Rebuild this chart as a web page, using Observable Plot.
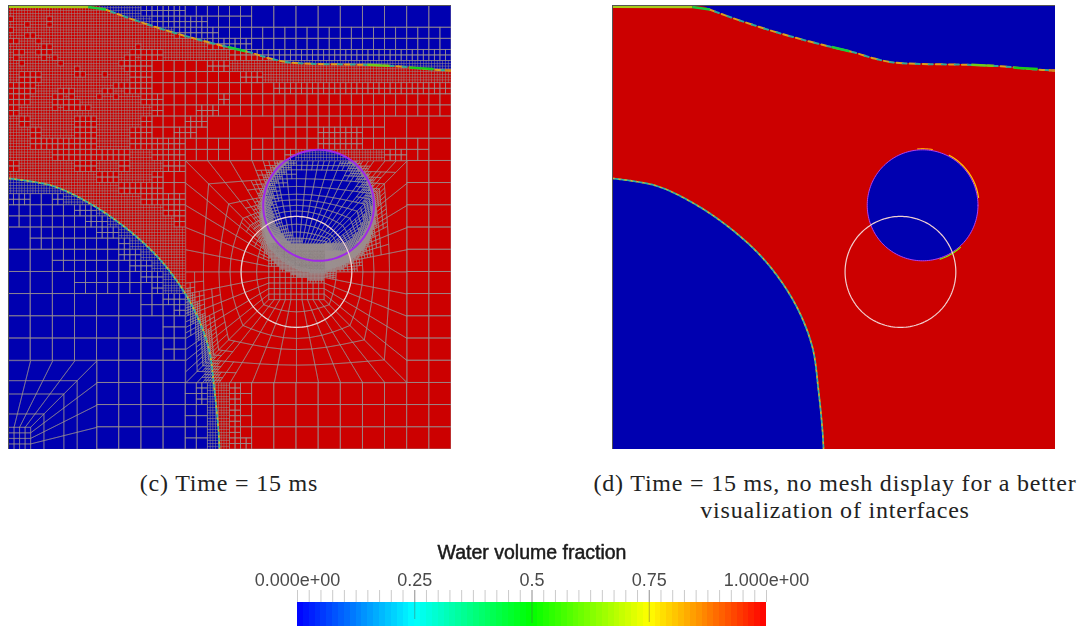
<!DOCTYPE html>
<html><head><meta charset="utf-8">
<script src="https://cdn.jsdelivr.net/npm/d3@7"></script>
<script src="https://cdn.jsdelivr.net/npm/@observablehq/plot@0.6"></script>
<style>
html,body{margin:0;padding:0;background:#fff;width:1081px;height:628px;overflow:hidden}
#page{position:relative;width:1081px;height:628px}
#page>svg,#page>figure,#page>div{position:absolute;margin:0}
.cap{font-family:"Liberation Serif",serif;font-size:24px;letter-spacing:.8px;color:#222;text-align:center;white-space:nowrap;line-height:27px;transform:translateX(-50%)}
</style></head><body><div id="page"></div>
<script>
// ---------- data (units: coarse mesh cells, 20 x 20 panel) ----------
const topX = [0,4.15,4.38,5.5,6.86,8.22,9.8,10.93,11.83,12.73,16.34,17.7,19.05,20];
const topY = [.05,.07,.18,.59,1.04,1.44,1.85,2.12,2.39,2.57,2.68,2.75,2.88,2.93];
const lowX = [0,1.94,3.43,4.97,6.46,7.49,8.40,9.03,9.30,9.48,9.53];
const lowY = [7.79,8.11,8.78,9.77,11.04,12.25,13.74,15.41,17.34,19.14,20];
const bubble = {x:14,y:9,r:2.5};      // air bubble (purple)
const cylinder = {x:13,y:12,r:2.5};   // white circle
const patchX1=[0,3.6,16.2,9.9,18.1,19.7], patchX2=[3.6,4.4,17.2,10.7,19.2,20];
const patchY1=[.06,.07,2.67,1.87,2.80,2.92], patchY2=[.07,.18,2.72,2.06,2.86,2.93];
const patchV =[.7,.45,.62,.45,.5,.85];
const arcA1=[-95,-62,48], arcA2=[-80,-8,72], arcV=[.85,.8,.62];
// refinement level of each half coarse cell: 0..3; "." = body-fitted O-grid block
const levelRows=[
"3333333333332222111111000000000000000000",
"3333333333333222221111000000000000000000",
"3333333333333332222111111111111111111111",
"3333333333333333332222111111111111111111",
"3333333333332233333322222222222222222222",
"3333333333322111112233333333333333333333",
"3333333333322111111112233333333333333333",
"2233333333322111100111112222222222222222",
"2233333333332211000211111111111111111111",
"2333333333333211022000000000000000000000",
"3233332233332110220000001111111100000000",
"3323332233322112200000001111222211000000",
"3322222233322222000000001111222211000000",
"3333222222233222111000011233333333221100",
"2333332233233322....................0000",
"3333333322333211....................0000",
"3333333333222211....................0000",
"2211233333332222....................0000",
"1111112233333322....................0000",
"0011111223333332....................0000",
"0011111122333333....................0000",
"0000111111233333....................0000",
"0000011111223333....................0000",
"0000001111122333....................0000",
"0000001111112233....................0000",
"0000001111111233....................0000",
"0000000000001122....................0000",
"0000000000000112....................0000",
"0000000000000011....................0000",
"0000000000000011....................0000",
"0000000000000011....................0000",
"0000000000000011....................0000",
"........00000000....................0000",
"........00000000....................0000",
"........00000000123321000000000000000000",
"........00000000123321000000000000000000",
"........00000000113321000000000000000000",
"........00000000113321000000000000000000",
"........00000000113321000000000000000000",
"........00000000113322000000000000000000"];
// unsplit quarter cells inside the densest zone [col,row] in quarter cells
const holes=[[0,2],[3,3],[7,2],[7,3],[0,4],[3,5],[4,5],[0,6],[1,6],[5,6],[6,7],[7,7],[5,8],[6,8],[7,8],[6,9],[8,9],[9,10],[1,8],[2,8],[1,9],[2,10],[12,11],[12,12],[13,12],[17,12],[2,12],[3,12],[4,12],[5,12],[2,13],[3,13],[4,13],[5,13],[3,14],[4,14],[3,15],[4,15],[9,15],[10,15],[11,15],[8,16],[9,16],[11,16],[8,17],[9,17],[10,17],[11,17],[12,17],[8,18],[10,18],[11,18],[12,18],[13,18],[14,18],[16,16],[17,15],[18,15],[19,14],[20,14],[21,14],[19,16],[21,15],[23,7],[22,8],[23,8],[21,9],[22,9],[20,10],[21,10],[21,11],[22,11],[22,12],[23,12]];
const ringRadii=[1.25,1.8,2.5,3.0,3.5,4.2,5.0];
const cornerRings=[1,1.6,2.5,3.1,4];
// colour bar
const stops=[0,.25,.5,.75,1];
const stopColors=["#0000ff","#00ffff","#00ff00","#ffff00","#ff0000"];
const tickLabels=["0.000e+00","0.25","0.5","0.75","1.000e+00"];
const tickValues=[0,.25,.5,.75,1];
const majorTicks=[.25,.5,.75], majorDepth=[84,88,87];
const RED="#cc0000", BLUE="#0000b0", MESH="#9a9090";

// ---------- mesh construction ----------
const jet=d3.scaleLinear().domain(stops).range(stopColors);
const lowPts=lowX.map((x,i)=>[x,lowY[i]]);
const topPts=topX.map((x,i)=>[x,topY[i]]);
function distPoly(px,py,pts){let b=1e9;for(let i=0;i<pts.length-1;i++){const[a,c]=pts[i],[e,f]=pts[i+1];const dx=e-a,dy=f-c;let t=((px-a)*dx+(py-c)*dy)/(dx*dx+dy*dy);t=Math.max(0,Math.min(1,t));const d=Math.hypot(px-a-t*dx,py-c-t*dy);if(d<b)b=d;}return b;}
const holeSet=new Set(holes.map(h=>h.join()));
const rects=[];
for(let cy=0;cy<20;cy++)for(let cx=0;cx<20;cx++){
  const ch=[[0,0],[1,0],[0,1],[1,1]].map(([a,b])=>levelRows[2*cy+b][2*cx+a]);
  if(ch.includes("."))continue;
  if(ch.every(c=>c==="0")){rects.push({x1:cx,x2:cx+1,y1:cy,y2:cy+1});continue;}
  [[0,0],[1,0],[0,1],[1,1]].forEach(([a,b],i)=>{
    const L=Math.max(1,+ch[i]),hx=cx+a/2,hy=cy+b/2;
    if(L===1){rects.push({x1:hx,x2:hx+.5,y1:hy,y2:hy+.5});return;}
    for(let qy=0;qy<2;qy++)for(let qx=0;qx<2;qx++){
      const gx=hx+qx/4,gy=hy+qy/4;
      const key=[2*(2*cx+a)+qx,2*(2*cy+b)+qy].join();
      if(L===2||holeSet.has(key)){rects.push({x1:gx,x2:gx+.25,y1:gy,y2:gy+.25});continue;}
      for(let j=0;j<2;j++)for(let k=0;k<2;k++)rects.push({x1:gx+k/8,x2:gx+(k+1)/8,y1:gy+j/8,y2:gy+(j+1)/8});
    }
  });
}
const fineRects=rects.filter(r=>r.x2-r.x1<.2), wideRects=rects.filter(r=>r.x2-r.x1>=.2);
function targetLevel(x,y){
  let L=0;
  const d=Math.hypot(x-bubble.x,y-bubble.y)-bubble.r;
  const s=Math.max(0,(y-bubble.y)/bubble.r);
  if(d>=0){
    if(d<.08+.3*s)L=4; else if(d<.2+.3*s)L=3; else if(d<.45+.3*s)L=2; else if(d<.9)L=1;
  }else{
    if(-d<.1)L=4; else if(-d<.4)L=3; else if(-d<.7)L=2; else L=1;
    if(y>11.05)L=4; else if(y>10.7)L=3;
  }
  const e=distPoly(x,y,lowPts);
  if(e<.3)L=Math.max(L,3); else if(e<.6)L=Math.max(L,2); else if(e<1.1)L=Math.max(L,1);
  return L;
}
const quadPts=[];let qid=0;
function addQuad(q,depth){
  const cx=(q[0][0]+q[1][0]+q[2][0]+q[3][0])/4,cy=(q[0][1]+q[1][1]+q[2][1]+q[3][1])/4;
  if(depth<targetLevel(cx,cy)&&depth<4){
    const m=(a,b)=>[(a[0]+b[0])/2,(a[1]+b[1])/2],c=[cx,cy];
    const a=m(q[0],q[1]),b=m(q[1],q[2]),e=m(q[2],q[3]),f=m(q[3],q[0]);
    addQuad([q[0],a,c,f],depth+1);addQuad([a,q[1],b,c],depth+1);addQuad([c,b,q[2],e],depth+1);addQuad([f,c,e,q[3]],depth+1);
    return;
  }
  const id=qid++;
  [q[0],q[1],q[2],q[3],q[0]].forEach(p=>quadPts.push({id,x:p[0],y:p[1]}));
}
// O-grid around the white circle
{
  const c=[cylinder.x,cylinder.y],vs=[];
  for(let i=0;i<10;i++)vs.push([-5+i,-5]);
  for(let i=0;i<10;i++)vs.push([5,-5+i]);
  for(let i=0;i<10;i++)vs.push([5-i,5]);
  for(let i=0;i<10;i++)vs.push([-5,5-i]);
  const P=(v,r)=>{const l=Math.hypot(v[0],v[1]);
    const I=[v[0]*.25,v[1]*.25],C=[v[0]/l*2.5,v[1]/l*2.5];
    const[a,b,t]=r<=2.5?[I,C,(r-1.25)/1.25]:[C,v,(r-2.5)/2.5];
    return[c[0]+a[0]+(b[0]-a[0])*t,c[1]+a[1]+(b[1]-a[1])*t];};
  for(let j=0;j<ringRadii.length-1;j++)for(let k=0;k<40;k++){
    const v=vs[k],w=vs[(k+1)%40];
    addQuad([P(v,ringRadii[j]),P(w,ringRadii[j]),P(w,ringRadii[j+1]),P(v,ringRadii[j+1])],0);
  }
  for(let i=0;i<10;i++)for(let j=0;j<10;j++){
    const x=c[0]-1.25+i/4,y=c[1]-1.25+j/4;
    addQuad([[x,y],[x+.25,y],[x+.25,y+.25],[x,y+.25]],0);
  }
}
// quarter O-grid in the lower left corner
{
  const c=[0,20],vs=[[0,-4],[1,-4],[2,-4],[3,-4],[4,-4],[4,-3],[4,-2],[4,-1],[4,0]];
  for(let j=0;j<cornerRings.length-1;j++)for(let k=0;k<8;k++){
    const r=cornerRings[j]/4,s=cornerRings[j+1]/4,v=vs[k],w=vs[k+1];
    addQuad([[c[0]+v[0]*r,c[1]+v[1]*r],[c[0]+w[0]*r,c[1]+w[1]*r],[c[0]+w[0]*s,c[1]+w[1]*s],[c[0]+v[0]*s,c[1]+v[1]*s]],0);
  }
  for(let i=0;i<4;i++)for(let j=0;j<4;j++){
    const x=i/4,y=19+j/4;
    addQuad([[x,y],[x+.25,y],[x+.25,y+.25],[x,y+.25]],0);
  }
}
const circle=(o,n=180)=>d3.range(n+1).map(i=>{const a=i/n*2*Math.PI;return{x:o.x+o.r*Math.cos(a),y:o.y+o.r*Math.sin(a)};});
const obj=a=>a.map(p=>({x:p[0],y:p[1]}));
const patches=patchX1.map((x,i)=>({x1:x,x2:patchX2[i],y1:patchY1[i],y2:patchY2[i],v:patchV[i]}));
const arcs=arcA1.map((a,i)=>({a,b:arcA2[i],v:arcV[i]}));
const arcPts=arcs.flatMap((s,i)=>d3.range(0,13).map(k=>{const t=(s.a+(s.b-s.a)*k/12)*Math.PI/180,r=bubble.r+.05;return{id:i,v:s.v,x:bubble.x+r*Math.cos(t),y:bubble.y+r*Math.sin(t)};}));
const CR="catmull-rom";
const fluid=[
  Plot.frame({fill:RED,stroke:null}),
  Plot.areaY(obj(topPts),{x:"x",y1:0,y2:"y",fill:BLUE,curve:CR}),
  Plot.areaX(obj(lowPts),{y:"y",x1:0,x2:"x",fill:BLUE,curve:CR}),
  Plot.line(circle(bubble),{x:"x",y:"y",fill:BLUE,stroke:"none"})
];
const fronts=[
  Plot.line(obj(topPts).slice(2),{x:"x",y:"y",stroke:"#d8a020",strokeWidth:2,strokeDasharray:"6 7",curve:CR}),
  Plot.line(obj(topPts).slice(2),{x:"x",y:"y",stroke:"#30a898",strokeWidth:2,strokeDasharray:"4 9",strokeDashoffset:-6,curve:CR}),
  Plot.line(obj(lowPts),{x:"x",y:"y",stroke:"#c8b830",strokeWidth:1.7,strokeDasharray:"2.5 3.5",curve:CR}),
  Plot.line(obj(lowPts),{x:"x",y:"y",stroke:"#30b0a8",strokeWidth:1.7,strokeDasharray:"2.5 3.5",strokeDashoffset:3,curve:CR}),
  Plot.link(patches,{x1:"x1",x2:"x2",y1:"y1",y2:"y2",stroke:d=>d3.interpolateRgb(jet(d.v),"#555")(.3),strokeWidth:2.4})
];
const border=Plot.frame({stroke:"#555",strokeWidth:1});
const panel=(marks)=>Plot.plot({width:443,height:444,margin:0,
  x:{domain:[0,20],range:[0,443],axis:null},y:{domain:[0,20],range:[0,444],axis:null},
  style:{background:"transparent",filter:"blur(0.5px)"},marks});
const meshMarks=[
  Plot.rect(wideRects,{x1:"x1",x2:"x2",y1:"y1",y2:"y2",fill:"none",stroke:MESH,strokeOpacity:.8,strokeWidth:.85}),
  Plot.rect(fineRects,{x1:"x1",x2:"x2",y1:"y1",y2:"y2",fill:"none",stroke:MESH,strokeOpacity:.5,strokeWidth:.6}),
  Plot.line(quadPts,{x:"x",y:"y",z:"id",stroke:MESH,strokeOpacity:.7,strokeWidth:.75})
];
const panelC=panel([...fluid,...meshMarks,...fronts,
  Plot.line(circle(bubble),{x:"x",y:"y",stroke:"#a028e8",strokeWidth:2}),
  Plot.line(circle(cylinder),{x:"x",y:"y",stroke:"#f0d0d0",strokeWidth:1.2}),border]);
const panelD=panel([...fluid,...fronts,
  Plot.line(arcPts,{x:"x",y:"y",z:"id",stroke:d=>jet(d.v),strokeWidth:1.2}),
  Plot.line(circle(bubble),{x:"x",y:"y",stroke:"#b040f0",strokeWidth:1}),
  Plot.line(circle(cylinder),{x:"x",y:"y",stroke:"#f0d0d0",strokeWidth:1.2}),border]);

const bands=d3.range(80).map(i=>({a:i/80,b:(i+1)/80,v:(i+.5)/80}));
const minor=d3.range(41).map(i=>i/40);
const bar=Plot.plot({width:600,height:93,margin:0,
  x:{domain:[0,1],range:[67,536],axis:null},y:{domain:[0,93],range:[0,93],axis:null},
  color:{type:"linear",domain:stops,range:stopColors,interpolate:"rgb"},
  style:{background:"transparent",filter:"blur(0.35px)"},
  marks:[
    Plot.rect(bands,{x1:"a",x2:"b",y1:67,y2:91,fill:"v",shapeRendering:"crispEdges"}),
    Plot.ruleX(minor,{x:d=>d,y1:55,y2:67,stroke:"#c4c4c4",strokeWidth:.9}),
    Plot.ruleX(majorTicks,{x:d=>d,y1:55,y2:(d,i)=>majorDepth[i],stroke:"#555",strokeOpacity:.55,strokeWidth:.8}),
    Plot.text(tickLabels,{x:(d,i)=>tickValues[i],y:45,text:d=>d,fontSize:18,fontFamily:"Liberation Sans",fill:"#4a4a4a"}),
    Plot.text(["Water volume fraction"],{x:[.5],y:17,text:d=>d,fontSize:19.5,fontFamily:"Liberation Sans",fill:"#1a1a1a",stroke:"#1a1a1a",strokeWidth:.5})
  ]});
const page=document.getElementById("page");
const place=(n,l,t)=>{n.style.position="absolute";n.style.left=l+"px";n.style.top=t+"px";page.appendChild(n);};
place(panelC,8,5);place(panelD,612,5);place(bar,230,535);
[["(c) Time = 15 ms",229,470],["(d) Time = 15 ms, no mesh display for a better",835,470],["visualization of interfaces",835,497]].forEach(([t,x,y])=>{
  const d=document.createElement("div");d.className="cap";d.textContent=t;d.style.left=x+"px";d.style.top=y+"px";page.appendChild(d);});
</script></body></html>
